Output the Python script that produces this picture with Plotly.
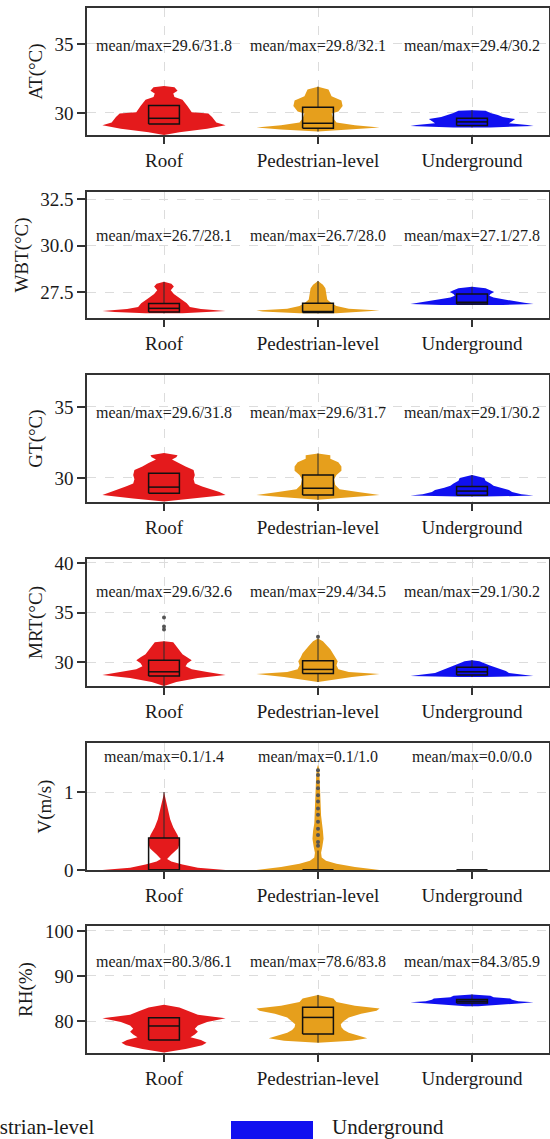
import plotly.graph_objects as go
from plotly.subplots import make_subplots

# ---------------- data ----------------
CATEGORIES = ["Roof", "Pedestrian-level", "Underground"]
VARIABLES = ["AT(°C)", "WBT(°C)", "GT(°C)", "MRT(°C)", "V(m/s)", "RH(%)"]
COLORS = ["#E41A1C", "#E69F1C", "#1010F0"]

MEAN_MAX = [
    ["mean/max=29.6/31.8", "mean/max=29.8/32.1", "mean/max=29.4/30.2"],
    ["mean/max=26.7/28.1", "mean/max=26.7/28.0", "mean/max=27.1/27.8"],
    ["mean/max=29.6/31.8", "mean/max=29.6/31.7", "mean/max=29.1/30.2"],
    ["mean/max=29.6/32.6", "mean/max=29.4/34.5", "mean/max=29.1/30.2"],
    ["mean/max=0.1/1.4", "mean/max=0.1/1.0", "mean/max=0.0/0.0"],
    ["mean/max=80.3/86.1", "mean/max=78.6/83.8", "mean/max=84.3/85.9"],
]

# violin outlines: value levels and relative density (1 = widest) per category
AT_LEVELS = [
    [28.4, 28.6, 28.85, 29.1, 29.3, 29.7, 29.95, 30.05, 30.5, 30.95, 31.15, 31.4, 31.6, 31.85, 31.95],
    [28.65, 28.8, 28.95, 29.1, 29.3, 29.6, 29.95, 30.1, 30.5, 30.9, 31.2, 31.4, 31.7, 31.9],
    [28.95, 29.05, 29.12, 29.25, 29.4, 29.55, 29.7, 29.85, 30.0, 30.15, 30.2],
]
AT_DENSITY = [
    [0.0, 0.25, 0.7, 1.0, 0.85, 0.78, 0.72, 0.45, 0.38, 0.3, 0.17, 0.15, 0.22, 0.17, 0.0],
    [0.0, 0.6, 1.0, 0.6, 0.3, 0.25, 0.22, 0.33, 0.4, 0.38, 0.22, 0.2, 0.17, 0.0],
    [0.3, 1.0, 0.9, 0.6, 0.65, 0.7, 0.5, 0.42, 0.3, 0.22, 0.0],
]
WBT_LEVELS = [
    [26.35, 26.42, 26.48, 26.58, 26.7, 26.9, 27.15, 27.4, 27.6, 27.8, 27.95, 28.05],
    [26.35, 26.45, 26.5, 26.6, 26.75, 26.9, 27.1, 27.3, 27.5, 27.7, 27.9, 28.1],
    [26.8, 26.86, 26.92, 27.0, 27.1, 27.2, 27.3, 27.4, 27.5, 27.6, 27.7, 27.78],
]
WBT_DENSITY = [
    [0.3, 0.8, 1.0, 0.6, 0.42, 0.37, 0.26, 0.16, 0.11, 0.16, 0.12, 0.0],
    [0.3, 0.9, 1.0, 0.5, 0.3, 0.22, 0.15, 0.14, 0.13, 0.12, 0.08, 0.0],
    [0.5, 1.0, 0.85, 0.7, 0.55, 0.35, 0.28, 0.3, 0.36, 0.3, 0.22, 0.0],
]
GT_LEVELS = [
    [28.33, 28.55, 28.8, 29.0, 29.2, 29.4, 29.6, 29.9, 30.2, 30.55, 30.8, 31.05, 31.3, 31.45, 31.6, 31.75],
    [28.45, 28.65, 28.8, 29.0, 29.2, 29.5, 29.9, 30.2, 30.5, 30.8, 31.1, 31.35, 31.6, 31.72],
    [28.68, 28.75, 28.85, 29.0, 29.15, 29.3, 29.45, 29.6, 29.8, 30.0, 30.2],
]
GT_DENSITY = [
    [0.0, 0.5, 1.0, 0.9, 0.75, 0.62, 0.5, 0.48, 0.5, 0.48, 0.35, 0.25, 0.13, 0.2, 0.22, 0.0],
    [0.0, 0.6, 1.0, 0.65, 0.35, 0.28, 0.26, 0.3, 0.38, 0.38, 0.33, 0.2, 0.2, 0.0],
    [0.2, 1.0, 0.8, 0.65, 0.6, 0.45, 0.35, 0.3, 0.22, 0.2, 0.0],
]
MRT_LEVELS = [
    [27.6, 28.0, 28.4, 28.7, 29.0, 29.3, 29.6, 29.9, 30.2, 30.5, 30.8, 31.2, 31.6, 32.0, 32.1],
    [28.0, 28.5, 28.8, 29.0, 29.3, 29.7, 30.1, 30.5, 30.9, 31.3, 31.7, 32.1, 32.4],
    [28.5, 28.6, 28.75, 28.9, 29.1, 29.3, 29.5, 29.7, 29.9, 30.1, 30.2],
]
MRT_DENSITY = [
    [0.0, 0.2, 0.55, 1.0, 0.7, 0.45, 0.35, 0.38, 0.45, 0.38, 0.3, 0.25, 0.2, 0.15, 0.0],
    [0.0, 0.55, 1.0, 0.5, 0.33, 0.3, 0.32, 0.28, 0.25, 0.2, 0.14, 0.08, 0.0],
    [0.2, 1.0, 0.8, 0.6, 0.55, 0.45, 0.38, 0.28, 0.2, 0.12, 0.0],
]
V_LEVELS = [
    [0.0, 0.03, 0.07, 0.11, 0.14, 0.2, 0.28, 0.36, 0.45, 0.55, 0.65, 0.75, 0.85, 0.95, 1.0],
    [0.0, 0.04, 0.08, 0.12, 0.16, 0.22, 0.3, 0.4, 0.5, 0.6, 0.7, 0.8, 0.9, 1.0, 1.1, 1.2, 1.3, 1.35],
    [],
]
V_DENSITY = [
    [1.0, 0.55, 0.3, 0.12, 0.05, 0.12, 0.23, 0.26, 0.22, 0.15, 0.1, 0.07, 0.04, 0.01, 0.0],
    [1.0, 0.6, 0.3, 0.13, 0.06, 0.05, 0.07, 0.09, 0.08, 0.06, 0.05, 0.045, 0.04, 0.04, 0.035, 0.03, 0.02, 0.0],
    [],
]
RH_LEVELS = [
    [73.0, 73.8, 74.6, 75.2, 75.8, 76.4, 77.0, 77.6, 78.3, 79.0, 79.8, 80.6, 81.4, 82.2, 83.0, 83.6],
    [75.2, 75.6, 76.2, 76.8, 77.4, 78.0, 78.6, 79.3, 80.0, 80.8, 81.6, 82.3, 82.8, 83.4, 84.2, 85.0, 85.8],
    [83.3, 83.6, 83.9, 84.15, 84.4, 84.7, 85.0, 85.3, 85.6, 85.9],
]
RH_DENSITY = [
    [0.0, 0.35, 0.62, 0.69, 0.6, 0.43, 0.5, 0.55, 0.5, 0.55, 0.7, 1.0, 0.55, 0.4, 0.25, 0.0],
    [0.0, 0.55, 0.8, 0.65, 0.5, 0.42, 0.38, 0.37, 0.42, 0.5, 0.7, 0.95, 1.0, 0.6, 0.3, 0.25, 0.0],
    [0.1, 0.5, 0.75, 1.0, 0.75, 0.65, 0.62, 0.35, 0.3, 0.0],
]

# box statistics per variable (Roof, Pedestrian-level, Underground)
BOX_Q1 = [[29.2, 28.89, 29.08], [26.42, 26.4, 26.85], [28.92, 28.8, 28.78],
          [28.6, 28.86, 28.7], [0.0, 0.0, 0.0], [75.78, 77.1, 84.0]]
BOX_MEDIAN = [[29.61, 29.25, 29.35], [26.62, 26.45, 26.95], [29.35, 29.27, 29.07],
              [29.03, 29.27, 29.03], [0.0, 0.0, 0.0], [78.9, 80.8, 84.4]]
BOX_Q3 = [[30.53, 30.41, 29.61], [26.88, 26.9, 27.39], [30.32, 30.2, 29.4],
          [30.2, 30.14, 29.5], [0.41, 0.0, 0.0], [80.73, 83.04, 84.8]]
BOX_LOW = [[29.2, 28.65, 28.95], [26.35, 26.35, 26.8], [28.92, 28.45, 28.68],
           [27.6, 28.0, 28.5], [0.0, 0.0, 0.0], [75.78, 75.2, 83.3]]
BOX_HIGH = [[30.53, 31.9, 30.2], [28.05, 28.1, 27.78], [30.32, 31.72, 30.2],
            [32.1, 32.4, 30.2], [1.0, 0.25, 0.0], [80.73, 85.8, 85.9]]

OUTLIERS = [
    [[], [], []],
    [[], [], []],
    [[], [], []],
    [[33.3, 33.6, 34.5], [32.56], []],
    [[], [0.31, 0.36, 0.45, 0.53, 0.62, 0.71, 0.79, 0.88, 0.96, 1.05, 1.13, 1.22, 1.28], []],
    [[], [], []],
]

LEVELS = [AT_LEVELS, WBT_LEVELS, GT_LEVELS, MRT_LEVELS, V_LEVELS, RH_LEVELS]
DENSITY = [AT_DENSITY, WBT_DENSITY, GT_DENSITY, MRT_DENSITY, V_DENSITY, RH_DENSITY]

# ---------------- layout constants ----------------
Y_RANGES = [[28.4, 37.6], [26.1, 32.9], [28.3, 37.25], [27.6, 40.4], [0, 1.63], [72.9, 101.1]]
Y_TICKS = [[30, 35], [27.5, 30.0, 32.5], [30, 35], [30, 35, 40], [0, 1], [80, 90, 100]]
Y_FORMAT = ["d", ".1f", "d", "d", "d", "d"]
LABEL_Y = [34.85, 30.54, 34.58, 37.1, 1.46, 93.3]
PANEL_PX = [(8, 135), (192, 318), (375, 502), (559, 686), (743, 870), (926, 1053)]  # page pixels

OFF = 0  # page body margin removed by post_script below
W, H = 550, 1139
ML = 87 - OFF
MR = W - (549 - OFF)
PW = W - ML - MR
HALF = 0.4
BOXHALF = 0.1
FONT = "Liberation Serif, Times New Roman, serif"
AXC = "#333333"
GRIDC = "#dcdcdc"
TXT = "#1a1a1a"


def px_x(x):
    return (x - OFF - ML) / PW


def px_y(y):
    return 1 - (y - OFF) / H


fig = make_subplots(rows=6, cols=1)

for p in range(6):
    row = p + 1
    for c in range(3):
        lv = LEVELS[p][c]
        dn = DENSITY[p][c]
        if lv:
            xs = [c + HALF * d for d in dn] + [c - HALF * d for d in reversed(dn)]
            ys = list(lv) + list(reversed(lv))
            fig.add_trace(go.Scatter(x=xs, y=ys, mode="lines", fill="toself",
                                     fillcolor=COLORS[c], line=dict(width=0, color=COLORS[c]),
                                     hoverinfo="skip", showlegend=False), row=row, col=1)
    wx, wy = [], []
    for c in range(3):
        wx += [c, c, None, c, c, None]
        wy += [BOX_Q3[p][c], BOX_HIGH[p][c], None, BOX_Q1[p][c], BOX_LOW[p][c], None]
    fig.add_trace(go.Scatter(x=wx, y=wy, mode="lines", line=dict(color="#2b2b2b", width=1),
                             hoverinfo="skip", showlegend=False), row=row, col=1)
    bx, by = [], []
    for c in range(3):
        l, r = c - BOXHALF, c + BOXHALF
        q1, md, q3 = BOX_Q1[p][c], BOX_MEDIAN[p][c], BOX_Q3[p][c]
        bx += [l, r, r, l, l, None, l, r, None]
        by += [q1, q1, q3, q3, q1, None, md, md, None]
    fig.add_trace(go.Scatter(x=bx, y=by, mode="lines", line=dict(color="#111111", width=1.5),
                             hoverinfo="skip", showlegend=False), row=row, col=1)
    for c in range(3):
        if OUTLIERS[p][c]:
            fig.add_trace(go.Scatter(x=[c] * len(OUTLIERS[p][c]), y=OUTLIERS[p][c], mode="markers",
                                     marker=dict(color="#555555", size=4),
                                     showlegend=False, hoverinfo="skip"), row=row, col=1)
    for c in range(3):
        fig.add_annotation(x=c, y=LABEL_Y[p], text=MEAN_MAX[p][c], showarrow=False,
                           font=dict(family=FONT, size=16, color=TXT),
                           xref=f"x{'' if row == 1 else row}", yref=f"y{'' if row == 1 else row}")

    top, bot = PANEL_PX[p]
    fig.update_yaxes(row=row, col=1, domain=[px_y(bot), px_y(top)], range=Y_RANGES[p],
                     tickvals=Y_TICKS[p], tickformat=Y_FORMAT[p],
                     title=dict(text=VARIABLES[p], standoff=7, font=dict(family=FONT, size=19, color=TXT)))
    fig.update_xaxes(row=row, col=1, range=[-0.5, 2.5], tickvals=[0, 1, 2], ticktext=CATEGORIES)

fig.update_xaxes(showline=True, mirror=True, linecolor=AXC, linewidth=1.5, ticks="outside",
                 ticklen=7, tickwidth=1.5, tickcolor=AXC, showgrid=True, gridcolor=GRIDC,
                 griddash="dash", gridwidth=1, zeroline=False,
                 tickfont=dict(family=FONT, size=19, color=TXT))
fig.update_yaxes(showline=True, mirror=True, linecolor=AXC, linewidth=1.5, ticks="outside",
                 ticklen=8, tickwidth=1.5, tickcolor=AXC, showgrid=True, gridcolor=GRIDC,
                 griddash="dash", gridwidth=1, zeroline=False,
                 tickfont=dict(family=FONT, size=19, color=TXT))

# legend (its left part lies outside the visible page, as in the reference)
fig.add_shape(type="rect", xref="paper", yref="paper", x0=px_x(-141), x1=px_x(-59),
              y0=px_y(1139), y1=px_y(1121), fillcolor=COLORS[1], line=dict(width=0))
fig.add_shape(type="rect", xref="paper", yref="paper", x0=px_x(231), x1=px_x(313),
              y0=px_y(1139), y1=px_y(1121), fillcolor=COLORS[2], line=dict(width=0))
fig.add_annotation(xref="paper", yref="paper", x=px_x(96), y=px_y(1127), xanchor="right",
                   yanchor="middle", text=CATEGORIES[1], showarrow=False,
                   font=dict(family=FONT, size=21, color=TXT))
fig.add_annotation(xref="paper", yref="paper", x=px_x(330), y=px_y(1127), xanchor="left",
                   yanchor="middle", text=CATEGORIES[2], showarrow=False,
                   font=dict(family=FONT, size=21, color=TXT))

fig.update_layout(width=W, height=H, margin=dict(l=ML, r=MR, t=0, b=0, autoexpand=False),
                  plot_bgcolor="white", paper_bgcolor="white", showlegend=False,
                  font=dict(family=FONT, color=TXT))

fig.write_html("out.html", config={"displayModeBar": False},
               post_script="document.body.style.margin='0px';document.body.style.overflow='hidden';")
